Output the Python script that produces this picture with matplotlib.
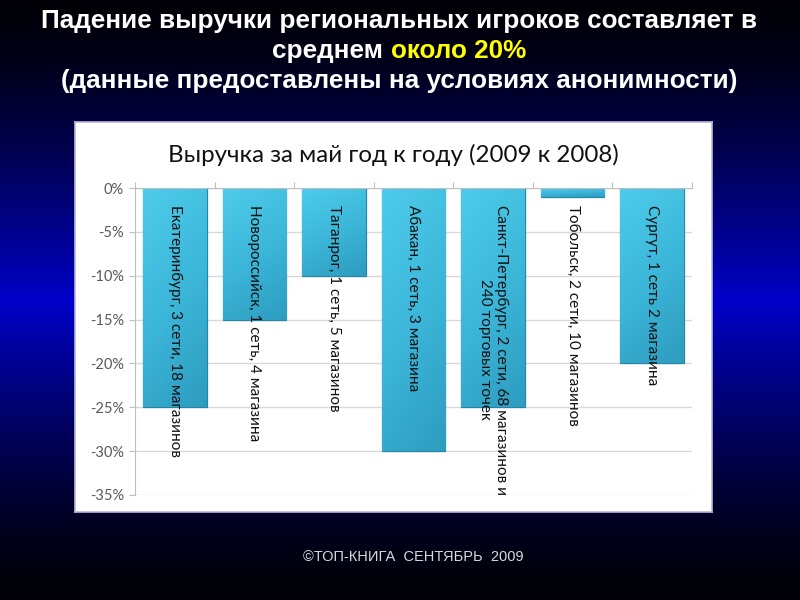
import numpy as np
import matplotlib.pyplot as plt
from matplotlib.colors import LinearSegmentedColormap

# data
cities = [
    "Екатеринбург, 3 сети, 18 магазинов",
    "Новороссийск, 1 сеть, 4 магазина",
    "Таганрог, 1 сеть, 5 магазинов",
    "Абакан, 1 сеть, 3 магазина",
    "Санкт-Петербург, 2 сети, 68 магазинов и\n240 торговых точек",
    "Тобольск, 2 сети, 10 магазинов",
    "Сургут, 1 сеть 2 магазина",
]
revenue_change = [-25, -15, -10, -30, -25, -1, -20]
y_ticks = [0, -5, -10, -15, -20, -25, -30, -35]

title_lines = ["Падение выручки региональных игроков составляет в",
               "среднем ", "около 20%",
               "(данные предоставлены на условиях анонимности)"]
chart_title = "Выручка за май год к году (2009 к 2008)"
footer = "©ТОП-КНИГА  СЕНТЯБРЬ  2009"

W, H = 800, 600
fig = plt.figure(figsize=(8, 6), dpi=100)

# slide background: vertical blue band fading to black top and bottom
bg = fig.add_axes([0, 0, 1, 1])
yy = np.arange(H)[:, None]
prof = np.clip(1 - np.abs(yy - 300) / 300, 0, 1) ** 1.4
grad = np.zeros((H, 2, 3))
grad[..., 2] = (6 + 195 * prof) / 255
grad[..., 1] = (2 * prof) / 255
bg.imshow(grad, extent=[0, 1, 0, 1], aspect="auto")
bg.set_xlim(0, 1)
bg.set_ylim(0, 1)
bg.axis("off")

# white chart panel
panel = fig.add_axes([75 / W, 1 - 512 / H, (712 - 75) / W, (512 - 122) / H])
panel.set_facecolor("white")
panel.set_xticks([])
panel.set_yticks([])
for s in panel.spines.values():
    s.set_color("#b8b8d8")
    s.set_linewidth(1.2)

ax = fig.add_axes([135 / W, 1 - 495 / H, 557 / W, 307 / H])
ax.set_facecolor("none")
x = np.arange(len(cities))
bars = ax.bar(x, revenue_change, width=0.8, color="#3bb8d8", edgecolor="#2585a3",
              linewidth=0.9, zorder=2)

cmap = LinearSegmentedColormap.from_list("bar", ["#4ecbea", "#3cb7da", "#2d9cbf"])
shade = np.linspace(0, 1, 100)[:, None] * 0.75 + np.linspace(0, 1, 20)[None, :] * 0.25
for b in bars:
    x0, y0 = b.get_x(), b.get_y()
    x1, y1 = x0 + b.get_width(), y0 + b.get_height()
    im = ax.imshow(shade, extent=[x0, x1, min(y0, y1), max(y0, y1)], cmap=cmap,
                   aspect="auto", origin="upper", zorder=2.1)
    im.set_clip_path(b)

for xi, label in zip(x, cities):
    ax.text(xi, -1.9, label, rotation=-90, ha="center", va="top",
            multialignment="center", fontsize=11, family="Lato",
            color="#111111", zorder=3)

ax.set_xlim(-0.5, len(cities) - 0.5)
ax.set_ylim(-35, 0)
ax.set_yticks(y_ticks)
ax.set_yticklabels([f"{v}%" for v in y_ticks], family="Lato", fontsize=10.5, color="#595959")
ax.tick_params(axis="y", length=4, color="#bfbfbf", pad=4)
ax.xaxis.tick_top()
ax.set_xticks(np.arange(-0.5, len(cities), 1))
ax.tick_params(axis="x", length=4, color="#bfbfbf", labeltop=False)
ax.grid(axis="y", color="#d9d9d9", linewidth=1, zorder=0)
ax.set_axisbelow(True)
for side in ["right", "bottom"]:
    ax.spines[side].set_visible(False)
for side in ["left", "top"]:
    ax.spines[side].set_color("#bfbfbf")

fig.text(393 / W, 1 - 155 / H, chart_title, ha="center", va="center",
         fontsize=17.4, family="Lato", color="#111111")

# slide heading, middle line has a yellow part
title_kw = dict(family="Liberation Sans", weight="bold", fontsize=18.8, va="center")
fig.text(0.499, 1 - 21 / H, title_lines[0], ha="center", color="white", **title_kw)
fig.text(0.499, 1 - 81 / H, title_lines[3], ha="center", color="white", **title_kw)
renderer = fig.canvas.get_renderer()
t1 = fig.text(0, 1 - 51 / H, title_lines[1], ha="left", color="white", **title_kw)
t2 = fig.text(0, 1 - 51 / H, title_lines[2], ha="left", color="#ffff00", **title_kw)
w1 = t1.get_window_extent(renderer).width / W
w2 = t2.get_window_extent(renderer).width / W
start = 0.499 - (w1 + w2) / 2
t1.set_x(start)
t2.set_x(start + w1)

fig.text(413 / W, 1 - 557 / H, footer, ha="center", va="center",
         family="Liberation Sans", fontsize=10.5, color="#d9d9d9")

fig.savefig("out.png", dpi=100)
